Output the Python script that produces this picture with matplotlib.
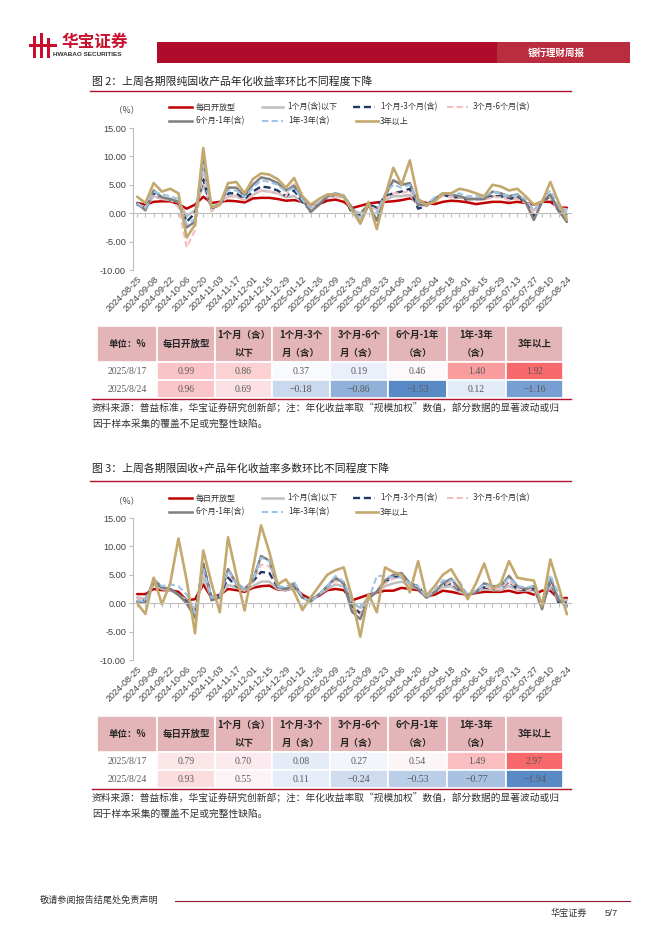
import numpy as np
import pandas as pd
import matplotlib
matplotlib.use("Agg")
import matplotlib.pyplot as plt
from matplotlib.colors import LinearSegmentedColormap, TwoSlopeNorm
from matplotlib.patches import Rectangle
from matplotlib.lines import Line2D
from matplotlib.ticker import FormatStrFormatter

CJK = ['Noto Sans CJK SC', 'DejaVu Sans']
plt.rcParams['font.family'] = CJK

# ---------- data ----------
dates = pd.date_range("2024-08-25", "2025-08-24", freq="7D")

names = ["每日开放型", "1个月(含)以下", "1个月-3个月(含)", "3个月-6个月(含)",
         "6个月-1年(含)", "1年-3年(含)", "3年以上"]

# chart 1: pure fixed income
daily_1 = [1.8, 1.5, 2.0, 2.1, 2.1, 1.6, 0.8, 1.5, 2.9, 1.8, 2.0, 2.2, 2.1, 1.9, 2.6, 2.7, 2.7, 2.5,
           2.2, 2.3, 2.0, 1.5, 1.6, 2.2, 2.4, 2.0, 0.9, 1.3, 1.7, 1.9, 2.0, 2.1, 2.3, 2.6, 2.2, 1.8,
           1.6, 2.0, 2.2, 2.1, 1.9, 1.6, 1.8, 2.0, 2.0, 1.8, 2.0, 1.8, 1.5, 2.0, 2.0, 0.99, 0.96]
m1_1 = [1.5, 1.0, 3.0, 2.5, 2.3, 2.0, -0.5, 0.5, 5.0, 1.0, 1.8, 3.0, 3.0, 2.3, 3.2, 4.0, 3.8, 3.5,
        2.8, 3.0, 2.0, 1.0, 1.8, 2.8, 3.0, 2.8, 0.5, 0.0, 1.5, 0.8, 2.3, 3.0, 3.0, 3.2, 1.5, 1.3,
        2.3, 3.2, 3.0, 3.0, 2.6, 2.5, 2.5, 3.0, 3.0, 2.6, 2.8, 2.0, 0.5, 2.0, 3.0, 0.86, 0.69]
m1_3_1 = [1.6, 0.8, 3.5, 2.7, 2.4, 2.0, -1.5, 0.0, 6.0, 0.8, 1.5, 3.5, 3.5, 2.5, 3.8, 4.7, 4.5, 4.0,
          3.0, 4.0, 2.0, 0.5, 1.5, 2.8, 3.3, 3.0, 0.0, -0.3, 1.5, 1.0, 3.0, 3.5, 3.8, 4.3, 0.8, 1.3,
          2.5, 3.3, 2.8, 2.8, 2.3, 2.5, 2.5, 3.0, 3.0, 2.5, 2.8, 2.0, -0.5, 2.0, 3.0, 0.37, -0.18]
m3_6_1 = [1.7, 1.0, 3.0, 2.5, 2.5, 1.0, -6.0, -3.0, 7.5, 0.3, 1.5, 3.0, 3.0, 2.3, 3.2, 4.0, 3.8, 3.5,
          3.0, 5.5, 2.5, 0.8, 1.8, 2.8, 3.0, 2.8, 0.5, -1.0, 1.5, 0.5, 2.5, 3.5, 3.5, 4.0, 1.5, 1.3,
          2.3, 3.0, 2.8, 2.8, 2.3, 2.3, 2.3, 2.8, 2.8, 2.3, 2.5, 1.8, 0.0, 2.0, 3.0, 0.19, -0.86]
m6_12_1 = [1.8, 0.5, 4.0, 2.8, 2.5, 2.0, -2.5, -1.5, 9.3, 1.0, 1.5, 4.5, 4.5, 3.0, 5.0, 6.3, 6.0, 5.3,
           4.0, 4.8, 2.5, 0.2, 1.5, 3.0, 3.5, 3.0, 1.0, -1.8, 1.5, -1.3, 3.0, 5.8, 5.0, 5.3, 1.5, 1.5,
           2.5, 3.5, 3.3, 3.0, 2.5, 2.5, 2.5, 3.8, 3.5, 3.0, 3.3, 2.0, -1.2, 2.0, 3.3, 0.46, -1.53]
y1_3_1 = [1.7, 0.8, 3.8, 3.3, 3.0, 2.5, -2.0, -1.0, 8.5, 1.0, 1.5, 4.0, 4.0, 2.8, 4.5, 5.8, 5.5, 5.0,
          3.8, 4.5, 2.3, 1.0, 2.3, 3.2, 3.5, 3.2, 0.5, -0.8, 1.5, 0.0, 3.5, 5.0, 4.5, 5.0, 2.0, 1.5,
          2.8, 3.5, 3.3, 3.5, 3.0, 3.0, 3.0, 3.8, 3.5, 3.0, 3.2, 2.5, 0.5, 2.3, 4.0, 1.40, 0.12]
y3p_1 = [2.9, 1.8, 5.3, 3.8, 4.3, 3.5, -4.3, -2.0, 11.5, 1.0, 1.5, 5.3, 5.5, 3.5, 6.0, 7.0, 6.8, 6.0,
         4.5, 6.2, 3.0, 1.5, 2.5, 3.3, 3.3, 3.0, 0.5, -1.8, 2.0, -2.8, 3.0, 8.0, 5.0, 9.3, 2.5, 1.5,
         2.0, 3.5, 3.5, 4.3, 4.0, 3.5, 3.0, 5.0, 4.7, 4.0, 4.3, 3.0, 1.5, 2.0, 5.5, 1.92, -1.16]

# chart 2: fixed income plus
daily_2 = [1.6, 1.6, 2.5, 2.3, 2.3, 2.0, 0.5, 0.7, 3.3, 1.0, 1.5, 2.5, 2.3, 2.0, 2.7, 3.0, 3.1, 2.4,
           2.3, 2.7, 1.5, 0.7, 1.3, 2.3, 2.5, 2.3, 0.5, 1.0, 1.5, 1.9, 2.2, 2.2, 2.7, 2.5, 2.3, 1.2,
           1.5, 2.2, 2.0, 1.7, 1.5, 1.8, 2.0, 2.0, 2.0, 2.2, 1.8, 2.0, 1.5, 2.2, 2.2, 0.79, 0.93]
m1_2 = [1.0, 0.8, 3.3, 2.5, 2.3, 1.5, 0.5, -1.0, 4.5, 1.0, 1.3, 3.2, 2.8, 2.2, 3.0, 3.8, 3.8, 2.5,
        2.3, 2.8, 1.0, 0.5, 1.5, 2.5, 3.3, 3.0, 0.0, -0.8, 1.2, 2.0, 3.0, 3.5, 3.8, 3.0, 2.5, 1.0,
        2.0, 2.8, 3.0, 2.0, 1.5, 2.0, 2.5, 2.3, 2.3, 3.0, 2.3, 2.2, 2.3, 0.0, 3.0, 0.70, 0.55]
m1_3_2 = [0.5, 0.5, 3.8, 2.8, 2.5, 1.5, 0.3, -2.0, 6.8, 1.0, 1.3, 4.5, 3.0, 2.3, 3.8, 5.5, 5.3, 2.8,
          2.5, 3.2, 1.0, 0.5, 1.5, 2.8, 4.2, 3.5, -0.5, -1.8, 1.0, 2.0, 3.8, 4.5, 4.8, 3.5, 3.0, 1.0,
          2.0, 3.2, 3.5, 2.3, 1.5, 2.0, 2.8, 2.5, 2.5, 3.8, 2.5, 2.3, 2.5, -0.5, 3.8, 0.08, 0.11]
m3_6_2 = [0.8, 0.5, 3.8, 2.8, 2.5, 1.5, 0.0, -2.8, 5.5, 0.8, 1.3, 5.5, 3.2, 2.3, 3.8, 6.8, 6.5, 3.0,
          2.5, 3.3, 1.0, 0.3, 1.5, 2.8, 4.0, 3.3, -1.0, -2.0, 1.0, 2.0, 3.5, 4.3, 4.5, 3.2, 2.8, 1.0,
          2.0, 3.0, 3.8, 2.3, 1.5, 2.0, 3.0, 2.5, 2.5, 4.0, 2.5, 2.3, 2.5, -1.2, 4.0, 0.27, -0.24]
m6_12_2 = [0.3, 0.2, 4.2, 2.8, 2.5, 1.5, 0.0, -2.5, 7.0, 0.5, 1.0, 6.0, 3.5, 2.5, 4.0, 8.3, 7.5, 3.0,
           2.5, 3.5, 1.0, 0.3, 1.5, 3.0, 4.5, 3.5, -1.5, -2.8, 0.8, 2.0, 4.0, 5.0, 5.3, 3.5, 2.5, 1.0,
           2.0, 3.5, 4.3, 2.5, 1.5, 2.0, 3.5, 3.0, 3.0, 4.8, 3.0, 2.5, 3.0, -1.0, 4.5, 0.54, -0.53]
y1_3_2 = [0.5, 0.3, 4.0, 3.0, 3.3, 3.0, 1.5, -1.8, 6.0, 1.0, 1.3, 5.8, 3.5, 2.5, 4.0, 8.0, 7.5, 3.0,
          2.8, 3.8, 1.0, 0.3, 1.5, 3.0, 4.8, 3.8, 0.5, -1.0, 0.5, 4.8, 4.8, 4.5, 4.5, 3.5, 3.0, 1.0,
          2.3, 4.0, 4.0, 3.8, 1.5, 2.3, 3.3, 3.0, 3.0, 4.5, 3.0, 2.8, 3.0, 0.0, 5.0, 1.49, -0.77]
y3p_2 = [0.0, -1.9, 4.5, -0.2, 3.5, 11.4, 4.0, -5.3, 9.3, 3.5, -1.6, 11.6, 5.0, -1.3, 6.0, 13.7, 9.0, 3.3,
         4.2, 2.0, -1.2, 1.0, 3.0, 5.0, 5.8, 6.3, 1.0, -5.9, 1.6, -1.6, 6.3, 5.5, 5.0, 1.9, 7.4, 1.3,
         3.0, 5.0, 6.0, 3.5, 0.7, 3.5, 7.0, 2.5, 3.5, 7.4, 4.5, 4.2, 4.0, -0.5, 7.7, 2.97, -1.94]

chart1 = [daily_1, m1_1, m1_3_1, m3_6_1, m6_12_1, y1_3_1, y3p_1]
chart2 = [daily_2, m1_2, m1_3_2, m3_6_2, m6_12_2, y1_3_2, y3p_2]

# tables
tbl_head = ["单位：%", "每日开放型", "1个月（含）\n以下", "1个月-3个\n月（含）", "3个月-6个\n月（含）",
            "6个月-1年\n（含）", "1年-3年\n（含）", "3年以上"]
tbl_rows = ["2025/8/17", "2025/8/24"]
tbl1_vals = [[0.99, 0.86, 0.37, 0.19, 0.46, 1.40, 1.92],
             [0.96, 0.69, -0.18, -0.86, -1.53, 0.12, -1.16]]
tbl2_vals = [[0.79, 0.70, 0.08, 0.27, 0.54, 1.49, 2.97],
             [0.93, 0.55, 0.11, -0.24, -0.53, -0.77, -1.94]]

# ---------- styles ----------
STYLES = [
    dict(color="#C00000", ls="-", lw=1.8),
    dict(color="#BFBFBF", ls="-", lw=1.8),
    dict(color="#1F3864", ls=(0, (3, 1.6)), lw=1.7),
    dict(color="#F4BEBE", ls=(0, (3, 1.6)), lw=1.5),
    dict(color="#7F7F7F", ls="-", lw=1.8),
    dict(color="#9DC3E6", ls=(0, (3, 1.6)), lw=1.5),
    dict(color="#C4A96E", ls="-", lw=1.9),
]

W, H = 662, 936
fig = plt.figure(figsize=(W / 100, H / 100), dpi=100)
fig.patch.set_facecolor("white")

ov = fig.add_axes([0, 0, 1, 1])
ov.set_xlim(0, W)
ov.set_ylim(H, 0)
ov.axis("off")


def frac(x0, y0, x1, y1):
    return [x0 / W, 1 - y1 / H, (x1 - x0) / W, (y1 - y0) / H]


# ---------- header ----------
red = "#C8102E"
for bx, top in [(33, 36), (40, 33), (47, 38)]:
    ov.add_patch(Rectangle((bx, top), 3.2, 58 - top, color=red, lw=0))
ov.add_patch(Rectangle((29, 44), 28, 3, color=red, lw=0))
ov.text(62, 42, "华宝证券", color=red, fontsize=12, fontweight="bold", va="center", ha="left")
ov.text(53, 55, "HWABAO SECURITIES", color="#333333", fontsize=4.6, va="center", ha="left",
        family="Liberation Sans", fontweight="bold")
ov.add_patch(Rectangle((157, 42), 340, 21, color="#AF0C2B", lw=0))
ov.add_patch(Rectangle((497, 42), 133, 21, color="#B92D3E", lw=0))
ov.text(556, 52.5, "银行理财周报", color="white", fontsize=6.8, fontweight="bold", va="center", ha="center")

# ---------- footer ----------
ov.text(40, 900, "敬请参阅报告结尾处免责声明", fontsize=6.6, color="#333333", va="center")
ov.plot([175, 630], [901, 901], color="#8C1C2C", lw=0.8)
ov.text(551, 913, "华宝证券", fontsize=6.6, color="#333333", va="center")
ov.text(605, 913, "5/7", fontsize=6.8, color="#333333", va="center", family="Liberation Sans")

cmap = LinearSegmentedColormap.from_list("excel3", ["#5A8AC6", "#FCFCFF", "#F8696B"])


def draw_section(title, y_title, y_rule, chart, ax_box, leg_y, table_vals, y_tab):
    ov.text(92, y_title, title, fontsize=7.8, color="#222222", va="center")
    ov.plot([90, 571], [y_rule, y_rule], color="#B0122C", lw=1.0)

    ax = fig.add_axes(frac(*ax_box))
    x = np.arange(len(dates))
    for st, y in zip(STYLES, chart):
        ax.plot(x, y, solid_capstyle="round", solid_joinstyle="round", dash_capstyle="butt", **st)
    ax.set_xlim(-0.5, len(dates) - 0.5)
    ax.set_ylim(-10, 15)
    ax.set_yticks([-10, -5, 0, 5, 10, 15])
    ax.yaxis.set_major_formatter(FormatStrFormatter("%.2f"))
    ax.tick_params(axis="y", length=3, color="#BFBFBF", labelsize=6.6, labelcolor="#404040",
                   labelfontfamily="Liberation Sans", pad=2)
    ax.spines[["top", "right"]].set_visible(False)
    ax.spines["left"].set_color("#BFBFBF")
    ax.spines["bottom"].set_position(("data", 0))
    ax.spines["bottom"].set_color("#BFBFBF")
    ax.set_xticks(x)
    ax.tick_params(axis="x", length=3, color="#BFBFBF", labelbottom=False)
    ax.patch.set_alpha(0)
    sec = ax.secondary_xaxis(0.0)
    sec.set_xticks(x[::2], labels=[d.strftime("%Y-%m-%d") for d in dates[::2]])
    sec.tick_params(length=0, labelsize=6.5, labelcolor="#404040", pad=3)
    for lb in sec.get_xticklabels():
        lb.set_rotation(45)
        lb.set_ha("right")
        lb.set_va("top")
        lb.set_rotation_mode("anchor")
        lb.set_family("Liberation Sans")
    sec.spines["bottom"].set_visible(False)

    ov.text(114, leg_y + 4, "（%）", fontsize=6.2, color="#404040", va="center")

    # legend
    slots = [(169, 192, 196, 0), (262, 283, 287, 0), (353, 375, 380, 0), (447, 468, 473, 0),
             (169, 192, 196, 1), (262, 283, 288, 1), (356, 378, 380, 1)]
    for (a, b, t, r), st, nm in zip(slots, STYLES, names):
        yy = leg_y + r * 14
        ov.add_line(Line2D([a, b], [yy, yy], **st))
        ov.text(t, yy, nm, fontsize=5.8, color="#333333", va="center")

    # table
    cols = [97, 157, 215, 272, 330, 388, 447, 506, 563]
    rows = [y_tab, y_tab + 36, y_tab + 54, y_tab + 72]
    flat = np.array(table_vals).ravel()
    norm = TwoSlopeNorm(vmin=flat.min(), vcenter=np.median(flat), vmax=flat.max())
    for j, hd in enumerate(tbl_head):
        ov.add_patch(Rectangle((cols[j], rows[0]), cols[j + 1] - cols[j], rows[1] - rows[0],
                               facecolor="#E4B5B8", edgecolor="white", lw=1.2))
        ov.text((cols[j] + cols[j + 1]) / 2, (rows[0] + rows[1]) / 2, hd, fontsize=6.8,
                fontweight="bold", ha="center", va="center", color="#262626", linespacing=2.0)
    for i, rl in enumerate(tbl_rows):
        yc = (rows[i + 1] + rows[i + 2]) / 2
        ov.text((cols[0] + cols[1]) / 2, yc, rl, fontsize=7, ha="center", va="center",
                color="#595959", family="Liberation Serif")
        for j, v in enumerate(table_vals[i]):
            ov.add_patch(Rectangle((cols[j + 1], rows[i + 1]), cols[j + 2] - cols[j + 1],
                                   rows[i + 2] - rows[i + 1], facecolor=cmap(norm(v)),
                                   edgecolor="white", lw=1.2))
            ov.text((cols[j + 1] + cols[j + 2]) / 2, yc, f"{v:.2f}".replace("-", "−"), fontsize=7,
                    ha="center", va="center", color="#595959", family="Liberation Serif")
    ov.plot([92, 571], [rows[3] + 1, rows[3] + 1], color="#B0122C", lw=1.0)
    ov.text(92, rows[3] + 10, "资料来源：普益标准，华宝证券研究创新部；注：年化收益率取“规模加权”数值，部分数据的显著波动或归",
            fontsize=7.0, color="#333333", va="center")
    ov.text(92, rows[3] + 26, "因于样本采集的覆盖不足或完整性缺陷。", fontsize=7.0, color="#333333", va="center")


draw_section("图 2：上周各期限纯固收产品年化收益率环比不同程度下降", 82, 91, chart1,
             (133, 128, 571, 270), 107, tbl1_vals, 326)
draw_section("图 3：上周各期限固收+产品年化收益率多数环比不同程度下降", 468, 481, chart2,
             (133, 518, 571, 660), 498, tbl2_vals, 716)

fig.savefig("out.png", dpi=100, facecolor="white")
